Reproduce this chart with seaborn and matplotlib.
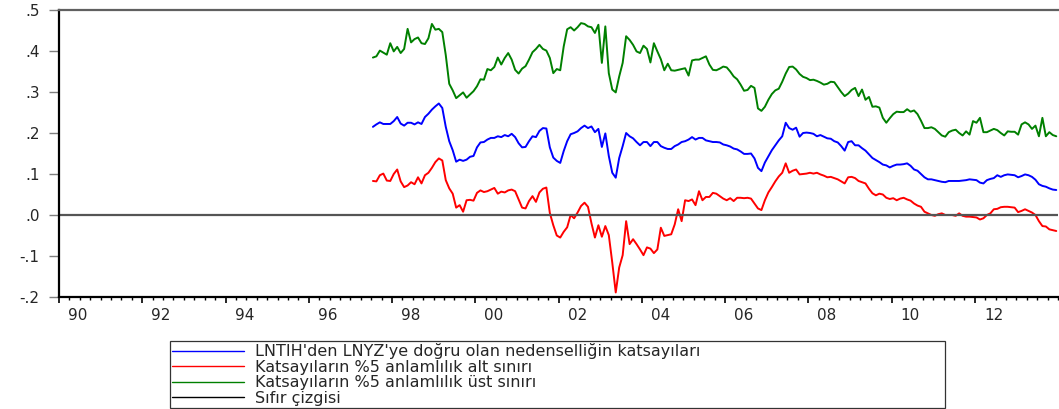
import numpy as np
import pandas as pd
import matplotlib
matplotlib.use("Agg")
import matplotlib.pyplot as plt
from matplotlib.lines import Line2D
from matplotlib.ticker import MultipleLocator
import seaborn as sns

# Monthly rolling causality coefficients, 1997M07 - 2013M12
start_month = "1997-07"

coef = [
    .215, .221, .226, .222, .222, .222, .229, .239, .223, .218, .225, .225, .221, .226, .222, .239, .247,
    .257, .265, .272, .261, .215, .180, .158, .130, .135, .132, .135, .142, .144, .165, .177, .178,
    .184, .188, .188, .192, .190, .195, .192, .198, .190, .175, .165, .166, .180, .192, .190, .205, .212,
    .211, .165, .140, .132, .127, .156, .180, .197, .200, .204, .212, .218, .212, .216, .202, .210,
    .166, .199, .144, .103, .091, .139, .168, .200, .192, .187, .178, .170, .178, .178, .168, .178, .178,
    .168, .164, .161, .161, .168, .172, .178, .180, .184, .190, .184, .188, .188, .182, .180, .178,
    .178, .177, .172, .170, .167, .162, .160, .155, .149, .149, .150, .138, .115, .107, .128, .143, .158,
    .170, .182, .192, .225, .212, .208, .213, .191, .200, .201, .200, .198, .192, .195, .191, .187,
    .186, .180, .177, .168, .157, .178, .180, .170, .170, .163, .157, .148, .139, .134, .129, .123, .121,
    .116, .120, .123, .123, .124, .126, .120, .111, .108, .100, .092, .087, .087, .085, .083, .081,
    .080, .083, .083, .083, .083, .084, .085, .087, .086, .085, .079, .077, .085, .088, .090, .097, .093,
    .097, .099, .098, .097, .092, .095, .099, .097, .093, .086, .075, .071, .069, .065, .062, .061,
]

lower = [
    .083, .082, .097, .101, .084, .083, .100, .111, .082, .068, .072, .080, .075, .092, .077, .097, .103,
    .115, .129, .138, .133, .085, .065, .052, .018, .024, .008, .036, .037, .035, .054, .060, .056,
    .058, .062, .066, .052, .057, .055, .060, .062, .058, .038, .018, .016, .034, .046, .032, .055, .064,
    .067, .005, -.025, -.050, -.055, -.041, -.030, .000, -.008, .006, .022, .030, .020, -.020, -.055, -.025,
    -.053, -.027, -.049, -.116, -.189, -.128, -.098, -.015, -.071, -.059, -.071, -.084, -.098, -.079, -.082, -.093, -.084,
    -.031, -.051, -.049, -.047, -.023, .014, -.015, .036, .034, .038, .024, .058, .036, .044, .044, .054,
    .052, .046, .040, .036, .041, .034, .042, .042, .041, .042, .040, .028, .016, .012, .036, .055, .068,
    .082, .094, .103, .126, .103, .108, .111, .099, .100, .101, .103, .101, .103, .099, .096, .092,
    .093, .090, .087, .082, .077, .092, .093, .090, .083, .080, .077, .064, .053, .048, .052, .050, .042,
    .039, .041, .036, .040, .042, .038, .035, .028, .023, .020, .008, .004, .000, -.002, .002, .004,
    .000, .000, .000, -.002, .004, -.002, -.004, -.004, -.005, -.006, -.011, -.008, .000, .004, .014, .015, .019,
    .020, .020, .019, .018, .007, .010, .014, .010, .006, .000, -.015, -.027, -.028, -.035, -.037, -.039,
]

upper = [
    .384, .387, .401, .396, .391, .419, .399, .410, .395, .405, .454, .421, .429, .433, .419, .417, .431,
    .466, .452, .454, .446, .390, .320, .304, .285, .292, .299, .286, .294, .302, .314, .331, .330,
    .356, .353, .361, .384, .367, .383, .395, .379, .354, .345, .357, .363, .379, .397, .405, .415, .405,
    .401, .383, .346, .356, .353, .411, .453, .458, .450, .458, .468, .466, .460, .458, .444, .464,
    .371, .460, .346, .306, .299, .338, .371, .436, .427, .415, .399, .395, .413, .405, .372, .419, .399,
    .380, .353, .369, .353, .352, .354, .356, .358, .340, .377, .379, .379, .383, .387, .367, .354,
    .353, .357, .362, .360, .350, .338, .331, .318, .303, .305, .315, .310, .260, .254, .264, .281, .295,
    .304, .308, .325, .345, .361, .362, .355, .344, .337, .334, .329, .330, .327, .323, .318, .320,
    .325, .324, .312, .300, .290, .296, .305, .310, .290, .306, .281, .288, .264, .265, .262, .237, .225,
    .236, .246, .252, .251, .251, .258, .252, .255, .246, .230, .212, .212, .214, .210, .202, .194,
    .191, .202, .206, .208, .200, .194, .204, .196, .229, .225, .237, .202, .202, .206, .210, .207, .200,
    .194, .204, .203, .203, .196, .221, .226, .221, .210, .218, .192, .237, .192, .202, .195, .192,
]

series_names = [
    "LNTIH'den LNYZ'ye doğru olan nedenselliğin katsayıları",
    "Katsayıların %5 anlamlılık alt sınırı",
    "Katsayıların %5 anlamlılık üst sınırı",
    "Sıfır çizgisi",
]
series_colors = ["#0000ff", "#ff0000", "#008000", "#000000"]

year_ticks = [1990, 1992, 1994, 1996, 1998, 2000, 2002, 2004, 2006, 2008, 2010, 2012]
year_labels = ["90", "92", "94", "96", "98", "00", "02", "04", "06", "08", "10", "12"]
y_ticks = [-0.2, -0.1, 0.0, 0.1, 0.2, 0.3, 0.4, 0.5]
y_labels = ["-.2", "-.1", ".0", ".1", ".2", ".3", ".4", ".5"]

# decimal-year position of each monthly observation (mid-month)
dates = pd.date_range(start_month, periods=len(coef), freq="MS")
t = dates.year + (dates.month - 0.5) / 12.0

df = pd.DataFrame({
    "t": np.tile(np.asarray(t), 3),
    "value": coef + lower + upper,
    "series": np.repeat(series_names[:3], len(coef)),
})

sns.set_theme(style="white")
plt.rcParams["font.family"] = ["DejaVu Sans"]

W, H = 1059, 409
fig = plt.figure(figsize=(W / 100, H / 100), dpi=100)
ax = fig.add_axes([59 / W, 1 - 297 / H, 999 / W, 287 / H])

sns.lineplot(data=df, x="t", y="value", hue="series", hue_order=series_names[:3],
             palette=series_colors[:3], linewidth=1.4, estimator=None,
             legend=False, ax=ax)
ax.axhline(0, color="#555555", linewidth=1.6)

ax.set_xlim(1990, 2014)
ax.set_ylim(-0.2, 0.5)
ax.set_xlabel("")
ax.set_ylabel("")

# y axis
ax.set_yticks(y_ticks, labels=y_labels)
ax.tick_params(axis="y", direction="out", length=7, width=1, color="#808080",
               labelsize=11, pad=7, left=True)

# x axis: long ticks every two years, short quarterly ticks, labels mid-year
ax.set_xticks(year_ticks, labels=[""] * len(year_ticks))
ax.xaxis.set_minor_locator(MultipleLocator(0.25))
ax.tick_params(axis="x", which="major", direction="out", length=4.5, width=1.2,
               color="black", bottom=True)
ax.tick_params(axis="x", which="minor", direction="out", length=2.5, width=1,
               color="black", bottom=True)
sec = ax.secondary_xaxis("bottom")
sec.set_xticks([y + 0.45 for y in year_ticks], labels=year_labels)
sec.tick_params(length=0, pad=8, labelsize=11)
sec.spines["bottom"].set_visible(False)

for side, col in [("left", "black"), ("bottom", "black"), ("top", "#606060")]:
    ax.spines[side].set_color(col)
    ax.spines[side].set_linewidth(1.6)
ax.spines["right"].set_visible(False)

handles = [Line2D([], [], color=c, linewidth=1.0) for c in series_colors]
leg = fig.legend(handles, series_names, loc="upper left",
                 bbox_to_anchor=(170 / W, 1 / H, 775 / W, 1 - 341 / H - 1 / H),
                 mode="expand", ncol=1, fontsize=11.5, frameon=True, fancybox=False,
                 borderpad=0.15, labelspacing=0.03, handlelength=4.5,
                 handletextpad=0.7, borderaxespad=0)
leg.get_frame().set_edgecolor("black")
leg.get_frame().set_linewidth(0.9)

fig.savefig("out.png", dpi=100)
